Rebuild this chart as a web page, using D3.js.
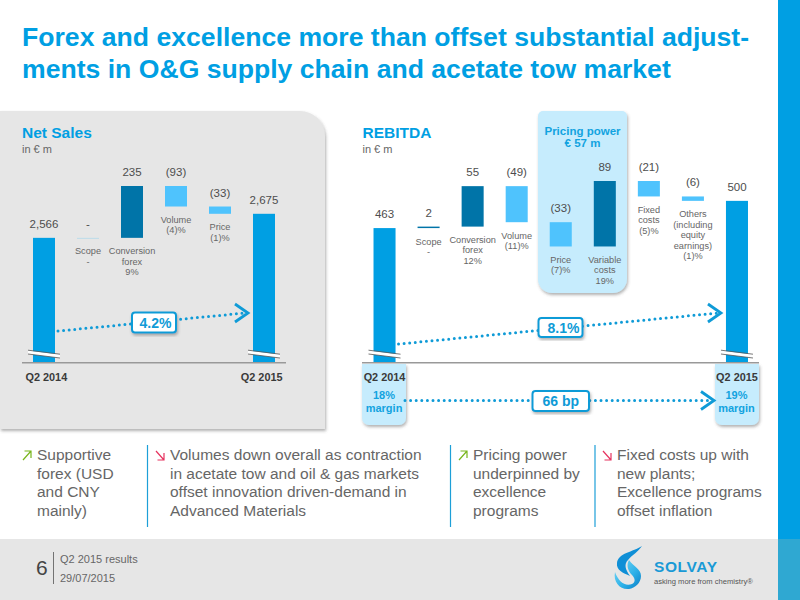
<!DOCTYPE html>
<html>
<head>
<meta charset="utf-8">
<script src="https://cdn.jsdelivr.net/npm/d3@7"></script>
<style>
html, body { margin: 0; padding: 0; background: #fff; }
svg { display: block; }
text { font-family: "Liberation Sans", Arial, sans-serif; }
</style>
</head>
<body>
<script>
var titleLines = ["Forex and excellence more than offset substantial adjust-",
    "ments in O&G supply chain and acetate tow market"];

// first and last values are totals, the ones in between are steps
var netCategories = ["Q2 2014", "Scope", "Conversion forex", "Volume", "Price", "Q2 2015"];
var netValues = [2566, 0, 235, -93, -33, 2675];
var netNotes = [[], ["Scope", "-"], ["Conversion", "forex", "9%"], ["Volume", "(4)%"], ["Price", "(1)%"], []];

var rebitdaCategories = ["Q2 2014", "Scope", "Conversion forex", "Volume", "Price", "Variable costs", "Fixed costs", "Others", "Q2 2015"];
var rebitdaValues = [463, 2, 55, -49, -33, 89, -21, -6, 500];
var rebitdaNotes = [[], ["Scope", "-"], ["Conversion", "forex", "12%"], ["Volume", "(11)%"], ["Price", "(7)%"],
    ["Variable", "costs", "19%"], ["Fixed", "costs", "(5)%"], ["Others", "(including", "equity", "earnings)", "(1)%"], []];

var bulletTexts = [
    ["Supportive", "forex (USD", "and CNY", "mainly)"],
    ["Volumes down overall as contraction", "in acetate tow and oil & gas markets", "offset innovation driven-demand in", "Advanced Materials"],
    ["Pricing power", "underpinned by", "excellence", "programs"],
    ["Fixed costs up with", "new plants;", "Excellence programs", "offset inflation"]
];
var bulletDirections = ["up", "down", "up", "down"];

var w = 800;
var h = 600;
var blue = "#009fe3";
var darkBlue = "#0074a8";
var lightBlue = "#4fc3fd";
var paleBlue = "#c6ecfd";
var textGrey = "#666666";
var baseY = 362.7;

var svg = d3.select("body")
    .append("svg")
    .attr("width", w)
    .attr("height", h);

var defs = svg.append("defs");

var shadow = defs.append("filter")
    .attr("id", "shadow")
    .attr("x", "-20%").attr("y", "-20%")
    .attr("width", "140%").attr("height", "140%");
shadow.append("feDropShadow")
    .attr("dx", 1).attr("dy", 2)
    .attr("stdDeviation", 1.5)
    .attr("flood-color", "#555")
    .attr("flood-opacity", 0.45);

var logoGradient = defs.append("linearGradient")
    .attr("id", "logoBlue")
    .attr("x1", 0).attr("y1", 0)
    .attr("x2", 1).attr("y2", 1);
logoGradient.append("stop").attr("offset", "0%").attr("stop-color", "#7fdcf7");
logoGradient.append("stop").attr("offset", "60%").attr("stop-color", "#2bb0e8");
logoGradient.append("stop").attr("offset", "100%").attr("stop-color", "#0a7cc4");

// page furniture
svg.append("rect").attr("x", 778).attr("y", 0).attr("width", 22).attr("height", 539).attr("fill", blue);
svg.append("rect").attr("x", 0).attr("y", 539).attr("width", 778).attr("height", 61).attr("fill", "#e6e6e6");
svg.append("rect").attr("x", 778).attr("y", 539).attr("width", 22).attr("height", 61).attr("fill", "#2fa8d2");

svg.selectAll(".title")
    .data(titleLines)
    .enter()
    .append("text")
    .attr("class", "title")
    .attr("x", 22)
    .attr("y", function(d, i) { return 46 + i * 32; })
    .attr("font-size", 26.6)
    .attr("font-weight", "bold")
    .attr("fill", blue)
    .text(function(d) { return d; });

// grey panel behind net sales, only the top right corner is round
svg.append("path")
    .attr("d", "M0,111H300A25,25 0 0 1 325,136V429H0Z")
    .attr("fill", "#e6e6e6")
    .attr("filter", "url(#shadow)");

// blue boxes behind the rebitda chart
svg.append("path")
    .attr("d", "M543,111H622A5,5 0 0 1 627,116V279A14,14 0 0 1 613,293H552A14,14 0 0 1 538,279V116A5,5 0 0 1 543,111Z")
    .attr("fill", paleBlue)
    .attr("filter", "url(#shadow)");

[362, 715].forEach(function(x) {
    svg.append("path")
        .attr("d", "M" + x + ",364H" + (x + 44) + "V418A7,7 0 0 1 " + (x + 37) + ",425H" + (x + 7) + "A7,7 0 0 1 " + x + ",418Z")
        .attr("fill", paleBlue)
        .attr("filter", "url(#shadow)");
});

function stepLabel(d, i, last) {
    if (i == 0 || i == last) return d3.format(",")(d);
    if (d == 0) return "-";
    return d < 0 ? "(" + Math.abs(d) + ")" : "" + d;
}

function drawWaterfall(categories, values, notes, xRange, yScale, axisRange, labelShift) {
    var last = values.length - 1;
    var g = svg.append("g");

    var xScale = d3.scaleBand()
        .domain(categories)
        .range(xRange)
        .paddingInner(0.5)
        .paddingOuter(0.25);

    // running total gives the start and end of each step
    var running = 0;
    var bars = values.map(function(v, i) {
        var start = (i == 0 || i == last) ? yScale.domain()[0] : running;
        var end = (i == 0 || i == last) ? v : running + v;
        running = end;
        return {
            category: categories[i],
            note: notes[i],
            value: v,
            index: i,
            top: yScale(Math.max(start, end)),
            bottom: yScale(Math.min(start, end))
        };
    });

    g.selectAll("rect.bar")
        .data(bars)
        .enter()
        .append("rect")
        .attr("class", "bar")
        .attr("x", function(d) { return xScale(d.category); })
        .attr("y", function(d) { return d.top; })
        .attr("width", xScale.bandwidth())
        .attr("height", function(d) { return Math.max(d.bottom - d.top, 1); })
        .attr("fill", function(d) {
            if (d.index == 0 || d.index == last) return blue;
            if (d.value == 0) return "#bcdcea";
            return d.value > 0 ? darkBlue : lightBlue;
        });

    g.selectAll("text.value")
        .data(bars)
        .enter()
        .append("text")
        .attr("class", "value")
        .attr("x", function(d) { return xScale(d.category) + xScale.bandwidth() / 2; })
        .attr("y", function(d) { return d.top - 10; })
        .attr("text-anchor", "middle")
        .attr("font-size", 11.5)
        .attr("fill", "#4d4d4d")
        .text(function(d) { return stepLabel(d.value, d.index, last); });

    g.selectAll("text.note")
        .data(bars)
        .enter()
        .append("text")
        .attr("class", "note")
        .attr("text-anchor", "middle")
        .attr("font-size", 9.2)
        .attr("fill", textGrey)
        .attr("transform", function(d) {
            return "translate(" + (xScale(d.category) + xScale.bandwidth() / 2) + "," + (d.bottom + 16.5) + ")";
        })
        .selectAll("tspan")
        .data(function(d) { return d.note; })
        .enter()
        .append("tspan")
        .attr("x", 0)
        .attr("y", function(d, i) { return i * 10.4; })
        .text(function(d) { return d; });

    // axis break on both total bars
    [categories[0], categories[last]].forEach(function(c) {
        var x0 = xScale(c) - 5;
        var x1 = xScale(c) + xScale.bandwidth() + 5;
        g.append("path")
            .attr("d", "M" + x0 + ",350.5V354L" + x1 + ",358V354.5Z")
            .attr("fill", "#fff");
        g.append("path")
            .attr("d", "M" + x0 + ",350.2L" + x1 + ",354.2M" + x0 + ",354L" + x1 + ",358")
            .attr("stroke", "#555")
            .attr("stroke-width", 0.8)
            .attr("fill", "none");
    });

    // baseline and the two period labels, same scale as the bars
    var axis = d3.axisBottom(xScale)
        .tickValues([categories[0], categories[last]])
        .tickSize(0)
        .tickPadding(11);
    var axisG = g.append("g")
        .attr("transform", "translate(0," + baseY + ")")
        .call(axis);
    axisG.select(".domain")
        .attr("d", "M" + axisRange[0] + ",0H" + axisRange[1])
        .attr("stroke", "#999")
        .attr("stroke-width", 1.5);
    axisG.selectAll("text")
        .attr("font-family", "Liberation Sans")
        .attr("font-size", 10.9)
        .attr("font-weight", "bold")
        .attr("fill", "#3a3a3a")
        .attr("dx", function(d, i) { return i == 0 ? labelShift : -labelShift; });

    return xScale;
}

var netY = d3.scaleLinear().domain([2000, 2801]).range([baseY, 186]);
var rebitdaY = d3.scaleLinear().domain([280, 527]).range([baseY, 181]);

var netX = drawWaterfall(netCategories, netValues, netNotes, [22, 286], netY, [22, 286], 2.3);
var rebitdaX = drawWaterfall(rebitdaCategories, rebitdaValues, rebitdaNotes, [362.5, 759], rebitdaY, [362, 759], 0);

// chart headings
function heading(x, name) {
    svg.append("text").attr("x", x).attr("y", 138)
        .attr("font-size", 15.5).attr("font-weight", "bold").attr("fill", blue).text(name);
    svg.append("text").attr("x", x).attr("y", 153)
        .attr("font-size", 11).attr("fill", textGrey).text("in € m");
}
heading(22, "Net Sales");
heading(362.5, "REBITDA");

svg.selectAll(".pricing")
    .data(["Pricing power", "€ 57 m"])
    .enter()
    .append("text")
    .attr("class", "pricing")
    .attr("x", 582.5)
    .attr("y", function(d, i) { return 134.5 + i * 12.6; })
    .attr("text-anchor", "middle")
    .attr("font-size", 11.5)
    .attr("font-weight", "bold")
    .attr("fill", "#12a3e0")
    .text(function(d) { return d; });

// margins under the rebitda totals
[["18%", rebitdaCategories[0]], ["19%", rebitdaCategories[8]]].forEach(function(m) {
    var cx = rebitdaX(m[1]) + rebitdaX.bandwidth() / 2;
    [m[0], "margin"].forEach(function(line, i) {
        svg.append("text")
            .attr("x", cx - 0.5)
            .attr("y", 398.5 + i * 13)
            .attr("text-anchor", "middle")
            .attr("font-size", 11)
            .attr("font-weight", "bold")
            .attr("fill", "#12a3e0")
            .text(line);
    });
});

// dotted growth arrow with a boxed label on top
function growthArrow(x0, y0, x1, y1, label, bx, by, bw, bh, dx) {
    var g = svg.append("g");
    g.append("line")
        .attr("x1", x0).attr("y1", y0)
        .attr("x2", x1 - 3).attr("y2", y1)
        .attr("stroke", "#0f9bd7")
        .attr("stroke-width", 3)
        .attr("stroke-linecap", "round")
        .attr("stroke-dasharray", "0 5.6");
    g.append("path")
        .attr("d", "M" + (x1 - 13) + "," + (y1 - 9) + "L" + x1 + "," + y1 + "L" + (x1 - 13) + "," + (y1 + 9))
        .attr("fill", "none")
        .attr("stroke", "#0f9bd7")
        .attr("stroke-width", 2.8);
    g.append("rect")
        .attr("x", bx).attr("y", by)
        .attr("width", bw).attr("height", bh)
        .attr("rx", 3)
        .attr("fill", "#fff")
        .attr("stroke", "#0f9bd7")
        .attr("stroke-width", 2)
        .attr("filter", "url(#shadow)");
    g.append("text")
        .attr("x", bx + bw / 2 + dx)
        .attr("y", by + bh / 2 + 5)
        .attr("text-anchor", "middle")
        .attr("font-size", 14)
        .attr("font-weight", "bold")
        .attr("fill", "#0f9bd7")
        .text(label);
}

var netRight = netX(netCategories[0]) + netX.bandwidth();
var rebitdaRight = rebitdaX(rebitdaCategories[0]) + rebitdaX.bandwidth();
growthArrow(netRight + 3, 331, netX(netCategories[5]) - 5, 313, "4.2%", 132, 312.5, 44, 20, 1.5);
growthArrow(rebitdaRight + 3, 344, rebitdaX(rebitdaCategories[8]) - 5, 313, "8.1%", 538.5, 318, 44, 19, 3);
growthArrow(405, 400.5, 714, 400.5, "66 bp", 532.5, 391, 56.5, 20, 0);

// commentary row under the charts
var bulletX = [37, 170, 473, 617];
var arrowX = [23, 156, 459, 603];
var dividerX = [147.5, 450.5, 595];

bulletTexts.forEach(function(lines, c) {
    svg.selectAll(".bullet" + c)
        .data(lines)
        .enter()
        .append("text")
        .attr("class", "bullet" + c)
        .attr("x", bulletX[c])
        .attr("y", function(d, i) { return 460 + i * 18.7; })
        .attr("font-size", 15.5)
        .attr("fill", textGrey)
        .text(function(d) { return d; });

    var ax = arrowX[c];
    var up = bulletDirections[c] == "up";
    svg.append("path")
        .attr("d", up
            ? "M" + ax + ",460L" + (ax + 8) + ",451M" + (ax + 1.5) + ",451H" + (ax + 8) + "V458"
            : "M" + ax + ",451L" + (ax + 8) + ",460M" + (ax + 8) + ",453V460H" + (ax + 1.5))
        .attr("fill", "none")
        .attr("stroke", up ? "#79b51c" : "#e6335f")
        .attr("stroke-width", 1.2);
});

svg.selectAll(".divider")
    .data(dividerX)
    .enter()
    .append("line")
    .attr("class", "divider")
    .attr("x1", function(d) { return d; })
    .attr("x2", function(d) { return d; })
    .attr("y1", 445)
    .attr("y2", 527)
    .attr("stroke", "#1d9fd8")
    .attr("stroke-width", 1.2);

// footer
svg.append("text").attr("x", 36).attr("y", 575).attr("font-size", 21).attr("fill", "#444").text("6");
svg.append("line").attr("x1", 53.5).attr("x2", 53.5).attr("y1", 552).attr("y2", 584).attr("stroke", "#555").attr("stroke-width", 0.8);
svg.append("text").attr("x", 60).attr("y", 563).attr("font-size", 11).attr("fill", textGrey).text("Q2 2015 results");
svg.append("text").attr("x", 60).attr("y", 582).attr("font-size", 11).attr("fill", textGrey).text("29/07/2015");

// logo
var logo = svg.append("g").attr("transform", "translate(615,545)");
logo.append("path")
    .attr("d", "M0,27C-2,37 5,45 14,44C20,43 26,38 26,31C26,24 19,22 14,15C11,20 13,26 17,30C20,33 21,37 17,39C10,42 3,36 0,27Z")
    .attr("fill", "url(#logoBlue)");
logo.append("path")
    .attr("d", "M27,1C18,7 3,8 2,18C1,25 8,28 15,31C10,24 9,19 13,15C17,10 23,7 27,1Z")
    .attr("fill", "#0f8fd6");
svg.append("text").attr("x", 654).attr("y", 572).attr("font-size", 15.5).attr("font-weight", "bold").attr("letter-spacing", 0.6).attr("fill", "#1a9ad6").text("SOLVAY");
svg.append("text").attr("x", 654).attr("y", 584).attr("font-size", 7.6).attr("fill", "#555").text("asking more from chemistry®");
</script>
</body>
</html>
